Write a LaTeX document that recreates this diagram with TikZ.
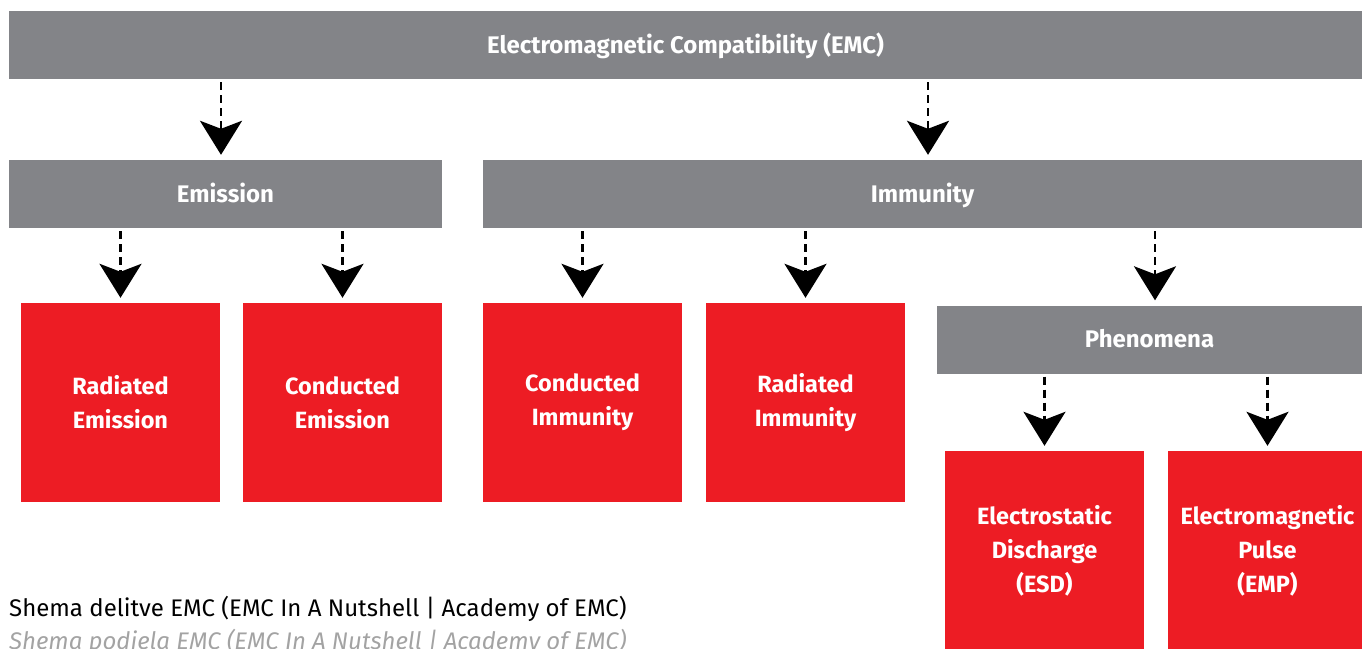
\documentclass[tikz,border=0pt]{standalone}
\usepackage{fontspec}
\setmainfont{Fira Sans}
\usetikzlibrary{arrows.meta}
\definecolor{emcgray}{HTML}{838488}
\definecolor{emcred}{HTML}{ED1C24}
\definecolor{captiongray}{HTML}{A3A3A3}
\tikzstyle{category}=[fill=emcgray, text=white, inner sep=0, minimum height=68pt, text height=16.5pt, text depth=0pt, font=\bfseries\fontsize{24}{26}\selectfont]
\tikzstyle{leaf}=[fill=emcred, text=white, inner sep=0, align=center, minimum width=199pt, minimum height=199pt, font=\bfseries\fontsize{23.5}{34}\selectfont]
\tikzstyle{branch}=[line width=2.6pt, dash pattern=on 8pt off 5pt, -{Stealth[length=34pt, width=42pt, inset=8pt]}, shorten <=3pt, shorten >=5pt]
\tikzstyle{caption}=[anchor=base west, inner sep=0, font=\fontsize{24}{26}\selectfont]

\begin{document}
\begin{tikzpicture}[x=1pt, y=-1pt]
      \useasboundingbox (0, 0) rectangle (1362, 648);
      \clip (0, 0) rectangle (1362, 648);

      \node[category, minimum width=1353pt] (emc) at (685.5, 45) {Electromagnetic Compatibility (EMC)};
      \node[category, minimum width=433pt] (emission) at (225.5, 194) {Emission};
      \node[category, minimum width=879pt] (immunity) at (922.5, 194) {Immunity};
      \node[category, minimum width=425pt] (phenomena) at (1149.5, 339.5) {Phenomena};

      \node[leaf] (rad_em) at (120.5, 402.5) {Radiated\\Emission};
      \node[leaf] (cond_em) at (342.5, 402.5) {Conducted\\Emission};
      \node[leaf] (cond_im) at (582.5, 402.5) {Conducted\\Immunity};
      \node[leaf] (rad_im) at (805.5, 402.5) {Radiated\\Immunity};
      \node[leaf] (esd) at (1044.5, 550.5) {Electrostatic\\Discharge\\(ESD)};
      \node[leaf] (emp) at (1267.5, 550.5) {Electromagnetic\\Pulse\\(EMP)};

      \draw[branch] ([xshift=-4.5pt]emc.south -| emission) -- ([xshift=-4.5pt]emission.north);
      \draw[branch] ([xshift=5.5pt]emc.south -| immunity) -- ([xshift=5.5pt]immunity.north);
      \draw[branch] (emission.south -| rad_em) -- (rad_em.north);
      \draw[branch] (emission.south -| cond_em) -- (cond_em.north);
      \draw[branch] (immunity.south -| cond_im) -- (cond_im.north);
      \draw[branch] (immunity.south -| rad_im) -- (rad_im.north);
      \draw[branch] ([xshift=5.5pt]immunity.south -| phenomena) -- ([xshift=5.5pt]phenomena.north);
      \draw[branch] (phenomena.south -| esd) -- (esd.north);
      \draw[branch] (phenomena.south -| emp) -- (emp.north);

      \node[caption] (caption_si) at (9, 616) {Shema delitve EMC (EMC In A Nutshell | Academy of EMC)};
      \node[caption, text=captiongray, font=\itshape\fontsize{24}{26}\selectfont] (caption_hr) at (9, 649) {Shema podjela EMC (EMC In A Nutshell | Academy of EMC)};
    \end{tikzpicture}
\end{document}
